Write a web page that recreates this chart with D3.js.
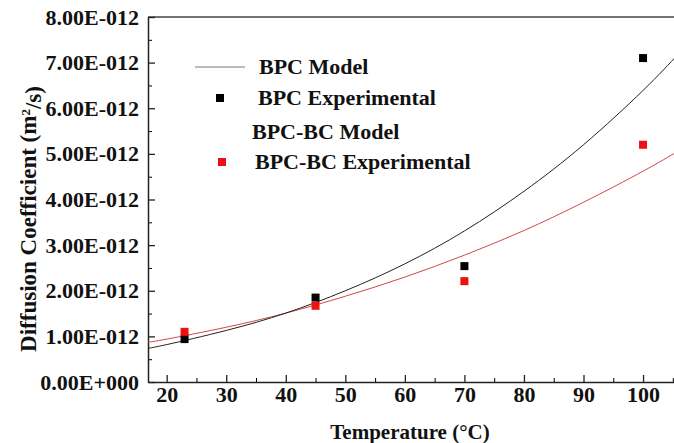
<!DOCTYPE html>
<html>
<head>
<meta charset="utf-8">
<script src="https://cdn.jsdelivr.net/npm/d3@7"></script>
<style>
  body { margin: 0; background: #fff; }
  svg text { font-family: "Times New Roman", "Liberation Serif", serif !important; font-weight: bold; fill: #111; }
</style>
</head>
<body>
<div id="chart"></div>
<script>
// values in units of 1E-012 m2/s
const bpcExpT = [23, 45, 70, 100];
const bpcExpD = [0.94, 1.85, 2.54, 7.1];
const bcExpT = [23, 45, 70, 100];
const bcExpD = [1.1, 1.67, 2.21, 5.2];

// model curves
const modelT = [16.86, 20, 30, 40, 50, 60, 70, 80, 90, 100, 106];
const bpcModelD = [0.74, 0.82, 1.13, 1.51, 2.0, 2.59, 3.31, 4.18, 5.2, 6.39, 7.2];
const bcModelD = [0.87, 0.94, 1.2, 1.51, 1.88, 2.3, 2.78, 3.32, 3.94, 4.62, 5.07];

const xTicks = [20, 30, 40, 50, 60, 70, 80, 90, 100];
const yTicks = [0, 1, 2, 3, 4, 5, 6, 7, 8];
const yTickLabels = ["0.00E+000", "1.00E-012", "2.00E-012", "3.00E-012", "4.00E-012",
    "5.00E-012", "6.00E-012", "7.00E-012", "8.00E-012"];

const legendNames = ["BPC Model", "BPC Experimental", "BPC-BC Model", "BPC-BC Experimental"];

var margin = { top: 17, left: 148 },
    width = 540,
    height = 365;

var svg = d3.select("#chart")
    .append("svg")
    .attr("width", 674)
    .attr("height", 443)
    .append("g")
    .attr("transform", "translate(" + margin.left + "," + margin.top + ")");

var x = d3.scaleLinear().domain([16.86, 107.55]).range([0, width]);
var y = d3.scaleLinear().domain([0, 8]).range([height, 0]);

// frame top line
svg.append("line")
    .attr("x1", 0).attr("x2", width)
    .attr("y1", 0).attr("y2", 0)
    .attr("stroke", "#444").attr("stroke-width", 1.5);

// minor ticks
svg.append("g")
    .attr("transform", "translate(0," + height + ")")
    .call(d3.axisBottom(x).tickValues(d3.range(25, 106, 10)).tickSize(-4).tickFormat(""))
    .call(g => g.select(".domain").remove());
svg.append("g")
    .call(d3.axisLeft(y).tickValues(d3.range(0.5, 8, 1)).tickSize(-4).tickFormat(""))
    .call(g => g.select(".domain").remove());

// major axes
var xAxis = svg.append("g")
    .attr("transform", "translate(0," + height + ")")
    .call(d3.axisBottom(x).tickValues(xTicks).tickSize(-7).tickSizeOuter(0).tickPadding(4));
var yAxis = svg.append("g")
    .call(d3.axisLeft(y).tickValues(yTicks).tickSize(-7).tickSizeOuter(0).tickPadding(9)
        .tickFormat((d, i) => yTickLabels[i]));

[xAxis, yAxis].forEach(function (g) {
    g.attr("font-family", null);
    g.select(".domain").attr("stroke", "#222").attr("stroke-width", 1.5);
    g.selectAll(".tick line").attr("stroke", "#222").attr("stroke-width", 1.3);
    g.selectAll(".tick text")
        .style("font-size", "22px")
        .attr("fill", "#111");
});
xAxis.selectAll(".tick text").attr("dy", null).attr("y", 20);

// model lines
var line = d3.line()
    .x(function (d) { return x(d[0]); })
    .y(function (d) { return y(d[1]); })
    .curve(d3.curveNatural);

svg.append("path")
    .datum(d3.zip(modelT, bcModelD))
    .attr("fill", "none")
    .attr("stroke", "#d04848")
    .attr("stroke-width", 1)
    .attr("d", line);

svg.append("path")
    .datum(d3.zip(modelT, bpcModelD))
    .attr("fill", "none")
    .attr("stroke", "#222")
    .attr("stroke-width", 1)
    .attr("d", line);

// experimental points
var sq = 8;
svg.append("g")
    .selectAll("rect")
    .data(d3.zip(bpcExpT, bpcExpD))
    .enter().append("rect")
    .attr("x", function (d) { return x(d[0]) - sq / 2; })
    .attr("y", function (d) { return y(d[1]) - sq / 2; })
    .attr("width", sq).attr("height", sq)
    .attr("fill", "#000");

svg.append("g")
    .selectAll("rect")
    .data(d3.zip(bcExpT, bcExpD))
    .enter().append("rect")
    .attr("x", function (d) { return x(d[0]) - sq / 2; })
    .attr("y", function (d) { return y(d[1]) - sq / 2; })
    .attr("width", sq).attr("height", sq)
    .attr("fill", "#ee1111");

// legend
var root = d3.select("svg");
var legendY = [66, 97, 131, 161];
var legendX = [259, 258, 252, 255];
root.append("line")
    .attr("x1", 195).attr("x2", 245)
    .attr("y1", legendY[0] + 1).attr("y2", legendY[0] + 1)
    .attr("stroke", "#777").attr("stroke-width", 1);
root.append("rect")
    .attr("x", 216).attr("y", legendY[1] - 3)
    .attr("width", sq).attr("height", sq).attr("fill", "#000");
root.append("rect")
    .attr("x", 218).attr("y", legendY[3] - 3)
    .attr("width", sq).attr("height", sq).attr("fill", "#ee1111");
root.selectAll(".legtext")
    .data(legendNames)
    .enter().append("text")
    .attr("class", "legtext")
    .attr("x", function (d, i) { return legendX[i]; })
    .attr("y", function (d, i) { return legendY[i]; })
    .attr("dy", "0.35em")
    .style("font-size", "22px")
    .text(function (d) { return d; });

// axis titles
root.append("text")
    .attr("x", 410).attr("y", 439)
    .attr("text-anchor", "middle")
    .style("font-size", "21px")
    .text("Temperature (\u00B0C)");

var yt = root.append("text")
    .attr("transform", "translate(36,219) rotate(-90)")
    .attr("text-anchor", "middle")
    .style("font-size", "23px");
yt.append("tspan").text("Diffusion Coefficient (m");
yt.append("tspan").attr("dy", "-0.5em").style("font-size", "13px").text("2");
yt.append("tspan").attr("dy", "0.5em").text("/s)");
</script>
</body>
</html>
